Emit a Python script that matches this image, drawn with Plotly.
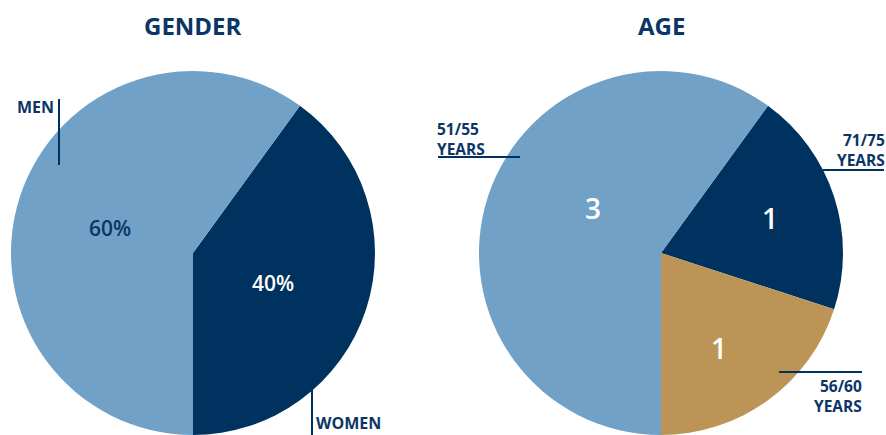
import plotly.graph_objects as go

W, H = 886, 435

gender_labels = ["WOMEN", "MEN"]
gender_values = [40, 60]
gender_text = ["40%", "60%"]

age_labels = ["71/75 YEARS", "56/60 YEARS", "51/55 YEARS"]
age_values = [1, 1, 3]

LIGHT = "#71A1C6"
NAVY = "#00325F"
GOLD = "#BC9556"
TXT = "#0B3566"
FONT = "Open Sans"


def px(x):
    return x / W


def py(y):
    return 1 - y / H


fig = go.Figure()
fig.add_trace(go.Pie(
    labels=gender_labels, values=gender_values,
    textinfo="none",
    sort=False, direction="clockwise", rotation=36,
    marker=dict(colors=[NAVY, LIGHT], line=dict(width=0)),
    domain=dict(x=[px(11), px(375)], y=[0, py(71)]),
    hoverinfo="label+percent", showlegend=False,
))
fig.add_trace(go.Pie(
    labels=age_labels, values=age_values,
    textinfo="none",
    sort=False, direction="clockwise", rotation=36,
    marker=dict(colors=[NAVY, GOLD, LIGHT], line=dict(width=0)),
    domain=dict(x=[px(479), px(843)], y=[0, py(71)]),
    hoverinfo="label+value", showlegend=False,
))

ann = []
shapes = []


def text(x, y, s, size, anchor="left", yanchor="top", color=TXT, weight=700):
    ann.append(dict(x=px(x), y=py(y), xref="paper", yref="paper", text=s,
                    showarrow=False, xanchor=anchor, yanchor=yanchor, align=anchor,
                    borderpad=0,
                    font=dict(family=FONT, size=size, color=color, weight=weight)))


def line(x0, y0, x1, y1):
    shapes.append(dict(type="line", xref="paper", yref="paper",
                       x0=px(x0), y0=py(y0), x1=px(x1), y1=py(y1),
                       line=dict(color=NAVY, width=2)))


# in-slice value labels (text from the data arrays)
text(110, 228, gender_text[1], 21, anchor="center", yanchor="middle", weight=600)
text(273, 283, gender_text[0], 21, anchor="center", yanchor="middle", color="white", weight=600)
text(593, 208, str(age_values[2]), 28, anchor="center", yanchor="middle", color="white", weight=600)
text(770, 218, str(age_values[0]), 28, anchor="center", yanchor="middle", color="white", weight=600)
text(719, 348, str(age_values[1]), 28, anchor="center", yanchor="middle", color="white", weight=600)

text(193, 25, "GENDER", 24, anchor="center", yanchor="middle")
text(661, 25, "AGE", 24, anchor="center", yanchor="middle")

text(16, 95, gender_labels[1], 16)
line(59, 99, 59, 165)
text(315, 434.5, gender_labels[0], 16, yanchor="bottom")
line(312, 390, 312, 435)

text(436, 117, age_labels[2].replace(" ", "<br>"), 15.5)
line(438, 157, 520, 157)
text(886, 128, age_labels[0].replace(" ", "<br>"), 15.5, anchor="right")
line(823, 170, 884, 170)
text(863, 374, age_labels[1].replace(" ", "<br>"), 15.5, anchor="right")
line(779, 372, 862, 372)

fig.update_layout(
    width=W, height=H, margin=dict(l=0, r=0, t=0, b=0),
    paper_bgcolor="white", plot_bgcolor="white",
    annotations=ann, shapes=shapes,
)

fig.write_html("out.html", config={"displayModeBar": False},
               post_script="document.body.style.margin='0';document.body.style.overflow='hidden';")
